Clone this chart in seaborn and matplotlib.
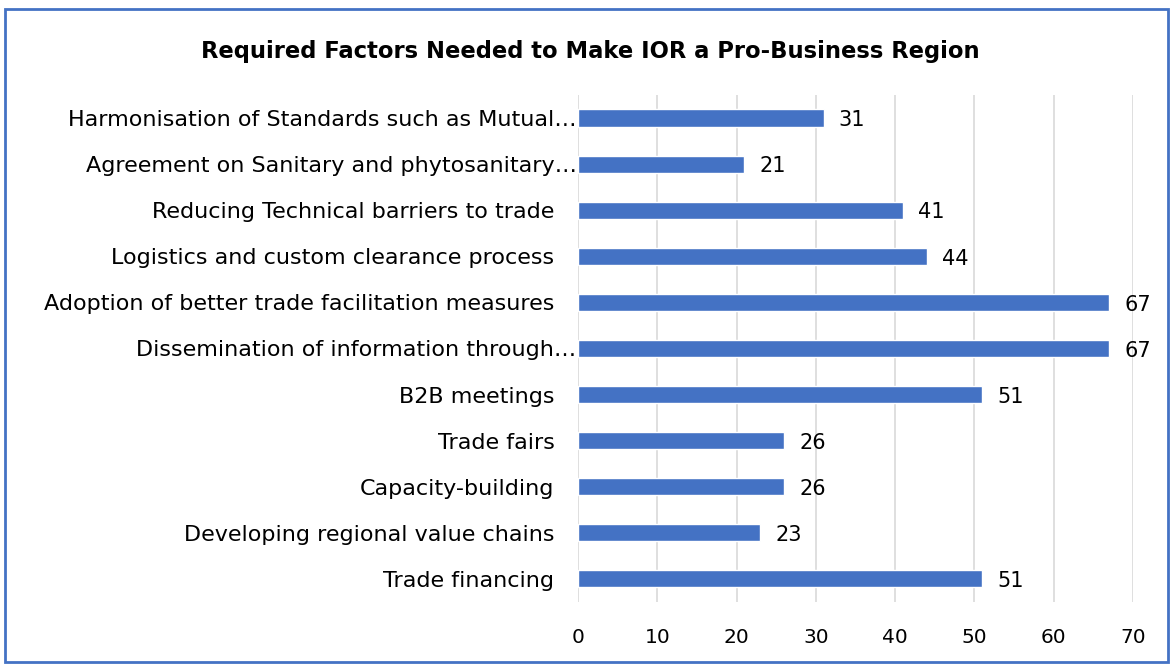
import numpy as np
import pandas as pd
import seaborn as sns
import matplotlib.pyplot as plt
from matplotlib.patches import Rectangle

# chart data, top to bottom as in the reference
factors = [
    "Harmonisation of Standards such as Mutual…",
    "Agreement on Sanitary and phytosanitary…",
    "Reducing Technical barriers to trade",
    "Logistics and custom clearance process",
    "Adoption of better trade facilitation measures",
    "Dissemination of information through…",
    "B2B meetings",
    "Trade fairs",
    "Capacity-building",
    "Developing regional value chains",
    "Trade financing",
]
responses = [31, 21, 41, 44, 67, 67, 51, 26, 26, 23, 51]
x_ticks = [0, 10, 20, 30, 40, 50, 60, 70]

df = pd.DataFrame({"factor": factors, "count": responses})

sns.set_theme(style="white")
plt.rcParams['font.family'] = ['DejaVu Sans']

fig = plt.figure(figsize=(11.76, 6.64), dpi=100)
ax = fig.add_axes([0.4915, 0.0934, 0.4719, 0.7636])

sns.barplot(data=df, y="factor", x="count", orient="h", color="#4472C4",
            saturation=1, width=0.37, ax=ax)

ax.set_xlim(0, 70)
ax.set_xticks(x_ticks)
ax.xaxis.grid(True, color="#D9D9D9", linewidth=1.2)
ax.set_axisbelow(True)
for s in ax.spines.values():
    s.set_visible(False)
ax.set_xlabel("")
ax.set_ylabel("")
ax.tick_params(axis="x", labelsize=14.5, colors="#000000", pad=19, length=0)
ax.tick_params(axis="y", labelsize=16, colors="#000000", length=0)

# truncated labels sit against the axis, the rest have a gap
for tick, lab in zip(ax.yaxis.get_major_ticks(), factors):
    tick.set_pad(1 if lab.endswith("…") else 17)

for i, v in enumerate(responses):
    ax.text(v + 1.9, i + 0.05, str(v), va="center", ha="left",
            fontsize=15, color="#000000")

fig.suptitle("Required Factors Needed to Make IOR a Pro-Business Region",
             x=0.502, y=0.94, fontsize=16.3, fontweight="bold", color="#000000")

# border round the whole chart
fig.patches.append(Rectangle((0.004, 0.003), 0.989, 0.983, transform=fig.transFigure,
                             fill=False, edgecolor="#4472C4", linewidth=2))

fig.savefig("out.png", dpi=100)
